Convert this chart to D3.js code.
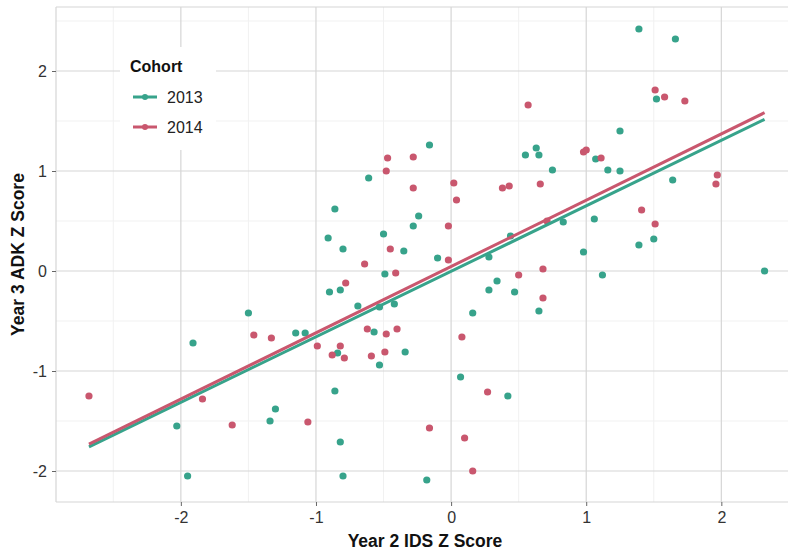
<!DOCTYPE html>
<html>
<head>
<meta charset="utf-8">
<script src="https://cdn.jsdelivr.net/npm/d3@7"></script>
<style>
  html, body { margin: 0; padding: 0; background: #fff; }
  svg { display: block; font-family: "Liberation Sans", Arial, sans-serif; }
</style>
</head>
<body>
<div id="chart"></div>
<script>
// Cohort 2013: [Year 2 IDS z, Year 3 ADK z]
const cohort2013 = [
  [-2.03, -1.55], [-1.95, -2.05], [-1.91, -0.72], [-1.50, -0.42], [-1.34, -1.50],
  [-1.30, -1.38], [-1.15, -0.62], [-1.08, -0.62], [-0.90, -0.21], [-0.82, -0.19],
  [-0.69, -0.35], [-0.53, -0.36], [-0.42, -0.33], [-0.57, -0.61], [-0.53, -0.94],
  [-0.84, -0.82], [-0.86, -1.20], [-0.82, -1.71], [-0.80, -2.05], [-0.49, -0.03],
  [-0.34, -0.81], [-0.61, 0.93], [-0.86, 0.62], [-0.91, 0.33], [-0.50, 0.37],
  [-0.80, 0.22], [-0.35, 0.20], [-0.16, 1.26], [-0.24, 0.55], [-0.28, 0.45],
  [-0.10, 0.13], [0.28, 0.14], [0.34, -0.10], [0.28, -0.19], [0.47, -0.21],
  [0.65, -0.40], [0.16, -0.42], [0.07, -1.06], [0.42, -1.25], [-0.18, -2.09],
  [0.44, 0.35], [0.83, 0.49], [1.06, 0.52], [0.98, 0.19], [1.12, -0.04],
  [0.55, 1.16], [0.63, 1.23], [0.65, 1.16], [0.75, 1.01], [1.07, 1.12],
  [1.16, 1.01], [1.25, 1.00], [1.25, 1.40], [1.39, 2.42], [1.66, 2.32],
  [1.52, 1.72], [1.64, 0.91], [1.50, 0.32], [1.39, 0.26], [2.32, 0.00]
];

// Cohort 2014
const cohort2014 = [
  [-2.68, -1.25], [-1.84, -1.28], [-1.62, -1.54], [-1.46, -0.64], [-1.33, -0.67],
  [-0.99, -0.75], [-1.06, -1.51], [-0.78, -0.12], [-0.62, -0.58], [-0.48, -0.63],
  [-0.40, -0.58], [-0.88, -0.84], [-0.82, -0.75], [-0.79, -0.87], [-0.59, -0.85],
  [-0.49, -0.81], [-0.64, 0.07], [-0.41, -0.02], [-0.47, 1.13], [-0.48, 1.00],
  [-0.45, 0.22], [-0.28, 1.14], [-0.28, 0.83], [-0.02, 0.45], [-0.02, 0.11],
  [0.02, 0.88], [0.04, 0.71], [0.38, 0.83], [0.43, 0.85], [0.66, 0.87],
  [0.71, 0.50], [0.50, -0.04], [0.68, 0.02], [0.68, -0.27], [0.08, -0.66],
  [0.27, -1.21], [-0.16, -1.57], [0.10, -1.67], [0.16, -2.00], [0.57, 1.66],
  [0.98, 1.19], [1.00, 1.21], [1.11, 1.13], [1.51, 1.81], [1.58, 1.74],
  [1.73, 1.70], [1.41, 0.61], [1.51, 0.47], [1.97, 0.96], [1.96, 0.87]
];

// fitted lm lines: [intercept, slope], drawn over full x range
const fit2013 = [-0.003, 0.655];
const fit2014 = [0.045, 0.663];
const fitRange = [-2.68, 2.32];

const cohorts = ['2013', '2014'];
const xTicks = [-2, -1, 0, 1, 2];
const yTicks = [-2, -1, 0, 1, 2];

const colors = { '2013': '#37a38b', '2014': '#c9576e' };

const width = 788, height = 556;
const margin = { left: 56, top: 7, bottom: 54 };

const x = d3.scaleLinear().domain([-2.924, 2.5]).range([margin.left, 788.9]);
const y = d3.scaleLinear().domain([-2.31, 2.64]).range([height - margin.bottom, margin.top]);

const svg = d3.select('#chart').append('svg')
  .attr('width', width)
  .attr('height', height);

// minor grid
const xMinor = [-2.5, -1.5, -0.5, 0.5, 1.5];
const yMinor = [-1.5, -0.5, 0.5, 1.5, 2.5];
svg.append('g').selectAll('line.xminor')
  .data(xMinor).enter().append('line')
  .attr('x1', d => x(d)).attr('x2', d => x(d))
  .attr('y1', y.range()[0]).attr('y2', y.range()[1])
  .style('stroke', '#f1f1f1').style('stroke-width', 1);
svg.append('g').selectAll('line.yminor')
  .data(yMinor).enter().append('line')
  .attr('x1', margin.left).attr('x2', width)
  .attr('y1', d => y(d)).attr('y2', d => y(d))
  .style('stroke', '#f1f1f1').style('stroke-width', 1);

// major grid
svg.append('g').selectAll('line')
  .data(xTicks).enter().append('line')
  .attr('x1', d => x(d)).attr('x2', d => x(d))
  .attr('y1', y.range()[0]).attr('y2', y.range()[1])
  .style('stroke', '#d6d6d6').style('stroke-width', 1.2);
svg.append('g').selectAll('line')
  .data(yTicks).enter().append('line')
  .attr('x1', margin.left).attr('x2', width)
  .attr('y1', d => y(d)).attr('y2', d => y(d))
  .style('stroke', '#d6d6d6').style('stroke-width', 1.2);

// panel border (left, top, bottom)
const pb = svg.append('g').style('stroke', '#d6d6d6').style('stroke-width', 1.2);
pb.append('line').attr('x1', margin.left).attr('x2', margin.left)
  .attr('y1', y.range()[0]).attr('y2', y.range()[1]);
pb.append('line').attr('x1', margin.left).attr('x2', width)
  .attr('y1', y.range()[1]).attr('y2', y.range()[1]);
pb.append('line').attr('x1', margin.left).attr('x2', width)
  .attr('y1', y.range()[0]).attr('y2', y.range()[0]);

// axes
const xAxis = svg.append('g')
  .attr('transform', `translate(0,${y.range()[0]})`)
  .call(d3.axisBottom(x).tickValues(xTicks).tickSize(4).tickPadding(6));
const yAxis = svg.append('g')
  .attr('transform', `translate(${margin.left},0)`)
  .call(d3.axisLeft(y).tickValues(yTicks).tickSize(4).tickPadding(5));
[xAxis, yAxis].forEach(a => {
  a.select('.domain').remove();
  a.selectAll('.tick line').style('stroke', '#666').style('stroke-width', 1);
  a.selectAll('.tick text')
    .style('font-size', '16px')
    .style('fill', '#333')
    .style('font-family', '"Liberation Sans", Arial, sans-serif');
});
xAxis.selectAll('.tick text').text(d => d < 0 ? '-' + Math.abs(d) : d);
yAxis.selectAll('.tick text').text(d => d < 0 ? '-' + Math.abs(d) : d);

// legend background
svg.append('rect')
  .attr('x', 120).attr('y', 47).attr('width', 96).attr('height', 103)
  .style('fill', '#fff');

// points
const series = [
  { key: '2013', pts: cohort2013, fit: fit2013 },
  { key: '2014', pts: cohort2014, fit: fit2014 }
];

series.forEach(s => {
  svg.append('g').selectAll('circle')
    .data(s.pts).enter().append('circle')
    .attr('cx', d => x(d[0]))
    .attr('cy', d => y(d[1]))
    .attr('r', 3.6)
    .style('fill', colors[s.key]);
});

// regression lines
const line = d3.line().x(d => x(d[0])).y(d => y(d[1]));
series.forEach(s => {
  const pts = fitRange.map(v => [v, s.fit[0] + s.fit[1] * v]);
  svg.append('path')
    .datum(pts)
    .attr('d', line)
    .style('fill', 'none')
    .style('stroke', colors[s.key])
    .style('stroke-width', 3);
});

// legend
const legend = svg.append('g');
legend.append('text')
  .attr('x', 130).attr('y', 72)
  .style('font-size', '16px').style('font-weight', 'bold').style('fill', '#111')
  .text('Cohort');
cohorts.forEach((c, i) => {
  const ly = 97 + i * 30;
  legend.append('line')
    .attr('x1', 133).attr('x2', 157).attr('y1', ly).attr('y2', ly)
    .style('stroke', colors[c]).style('stroke-width', 3);
  legend.append('circle')
    .attr('cx', 145).attr('cy', ly).attr('r', 3)
    .style('fill', colors[c]);
  legend.append('text')
    .attr('x', 167).attr('y', ly + 6)
    .style('font-size', '16px').style('fill', '#222')
    .text(c);
});

// axis titles
svg.append('text')
  .attr('x', 425).attr('y', 547)
  .attr('text-anchor', 'middle')
  .style('font-size', '17.5px').style('font-weight', 'bold').style('fill', '#111')
  .text('Year 2 IDS Z Score');
svg.append('text')
  .attr('transform', `translate(24,${(y.range()[0] + y.range()[1]) / 2}) rotate(-90)`)
  .attr('text-anchor', 'middle')
  .style('font-size', '17.5px').style('font-weight', 'bold').style('fill', '#111')
  .text('Year 3 ADK Z Score');
</script>
</body>
</html>
